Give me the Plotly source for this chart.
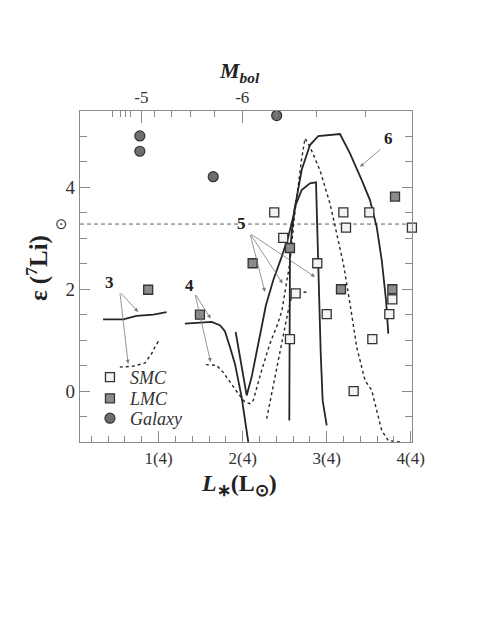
import plotly.graph_objects as go

# luminosity in units of 10^4 Lsun, lithium abundance eps(7Li)
smc_L = [2.376, 2.483, 2.631, 2.563, 2.888, 3.000, 3.198, 3.230, 3.507, 3.543, 3.321, 3.745, 3.781, 4.014]
smc_li = [3.51, 3.01, 1.92, 1.02, 2.51, 1.51, 3.51, 3.21, 3.51, 1.02, 0.0, 1.51, 1.80, 3.21]

lmc_L = [0.876, 1.492, 2.119, 2.563, 3.170, 3.781, 3.813]
lmc_li = [1.99, 1.50, 2.51, 2.81, 2.0, 2.0, 3.82]

gal_L = [0.777, 0.777, 1.650, 2.405]
gal_li = [5.01, 4.71, 4.21, 5.41]

# model tracks
m3_solid_L = [0.34, 0.579, 0.738, 0.936, 1.095]
m3_solid_li = [1.41, 1.41, 1.475, 1.50, 1.55]
m3_dot_L = [0.539, 0.698, 0.837, 0.917, 0.956, 1.007]
m3_dot_li = [0.47, 0.49, 0.55, 0.735, 0.865, 1.0]

m4_solid_L = [1.313, 1.452, 1.631, 1.730, 1.789, 1.849, 1.908, 1.988, 2.067]
m4_solid_li = [1.325, 1.345, 1.357, 1.292, 1.174, 0.865, 0.539, -0.118, -1.0]

m4_dot_L = [1.563, 1.690, 1.769, 1.849, 1.948, 2.027, 2.087, 2.126, 2.226, 2.325, 2.420, 2.468,
            2.515, 2.563, 2.611, 2.658, 2.700, 2.742, 2.801, 2.920, 3.039, 3.119, 3.198, 3.277,
            3.357, 3.456, 3.536, 3.595, 3.655, 3.733, 3.872]
m4_dot_li = [0.519, 0.505, 0.368, 0.177, -0.051, -0.216, -0.248, -0.183, 0.407, 0.932, 1.331, 1.587,
             2.079, 2.531, 3.357, 4.045, 4.537, 4.964, 4.798, 4.337, 3.685, 3.095, 2.505, 1.719,
             0.865, 0.210, 0.014, -0.380, -0.773, -0.970, -1.0]

m5_dot_L = [2.286, 2.376, 2.460, 2.543, 2.581, 2.635, 2.694, 2.762]
m5_dot_li = [-0.543, 0.210, 0.899, 1.587, 1.843, 1.931, 1.951, 1.941]

m6_solid_L = [1.917, 1.988, 2.048, 2.107, 2.167, 2.226, 2.277, 2.364, 2.464, 2.543, 2.602, 2.702,
              2.801, 2.900, 3.158, 3.277, 3.417, 3.515, 3.595, 3.655, 3.706, 3.733]
m6_solid_li = [1.160, 0.472, -0.085, 0.275, 0.736, 1.259, 1.685, 2.177, 2.635, 3.028, 3.422, 4.340,
               4.832, 5.009, 5.048, 4.669, 4.144, 3.750, 3.225, 2.570, 1.784, 1.129]

m5_solid_L = [2.555, 2.557, 2.563, 2.587, 2.623, 2.702, 2.801, 2.873, 2.885, 2.900, 2.929, 2.952, 3.000]
m5_solid_li = [-0.576, 1.194, 2.702, 3.160, 3.619, 3.947, 4.079, 4.098, 3.357, 2.045, 0.736, -0.183, -0.675]

solar_li = 3.28

x_ticks = [1, 2, 3, 4]
x_ticktext = ["1(4)", "2(4)", "3(4)", "4(4)"]
y_ticks = [0, 2, 4]
mbol_major = [-5, -6]
mbol_minor = [-4.4, -4.6, -4.7, -4.8, -5.2, -5.4, -5.6, -5.8, -6.2, -6.4, -6.6]


def mbol_to_L(m):
    # bolometric magnitude -> luminosity in 10^4 Lsun
    return 10 ** ((4.75 - m) / 2.5) / 1e4


SERIF = "Liberation Serif"
AXIS_GREY = "#8a8a8a"
LINE_COL = "#262626"
X_RANGE = [0.065, 4.015]

fig = go.Figure()

solid = dict(color=LINE_COL, width=1.8)
dotted = dict(color=LINE_COL, width=1.4, dash="dot")
for xs, ys, st in [
    (m3_solid_L, m3_solid_li, solid), (m3_dot_L, m3_dot_li, dotted),
    (m4_solid_L, m4_solid_li, solid), (m4_dot_L, m4_dot_li, dotted),
    (m5_dot_L, m5_dot_li, dotted), (m6_solid_L, m6_solid_li, solid),
    (m5_solid_L, m5_solid_li, solid),
]:
    fig.add_trace(go.Scatter(x=xs, y=ys, mode="lines", line=st, showlegend=False, hoverinfo="skip"))

# one legend per sample so the rows can sit as tight as in the original
fig.add_trace(go.Scatter(x=smc_L, y=smc_li, mode="markers", name="SMC", cliponaxis=False, legend="legend",
                         marker=dict(symbol="square", size=9, color="#f3f3f3",
                                     line=dict(color="#333333", width=1.3))))
fig.add_trace(go.Scatter(x=lmc_L, y=lmc_li, mode="markers", name="LMC", cliponaxis=False, legend="legend2",
                         marker=dict(symbol="square", size=9, color="#8c8c8c",
                                     line=dict(color="#333333", width=1.3))))
fig.add_trace(go.Scatter(x=gal_L, y=gal_li, mode="markers", name="Galaxy", cliponaxis=False, legend="legend3",
                         marker=dict(symbol="circle", size=10, color="#6e6e6e",
                                     line=dict(color="#333333", width=1.2))))
# dummy trace so the top Mbol axis is drawn
fig.add_trace(go.Scatter(x=[None], y=[None], xaxis="x2", showlegend=False, hoverinfo="skip"))

fig.add_shape(type="line", xref="paper", x0=0, x1=1, yref="y", y0=solar_li, y1=solar_li,
              line=dict(color="#333333", width=0.8, dash="4px,3px"), layer="below")

# model labels with arrows
labels = [("3", 0.420, 2.14), ("4", 1.373, 2.08), ("5", 1.988, 3.29), ("6", 3.733, 4.96)]
for txt, lx, ly in labels:
    fig.add_annotation(x=lx, y=ly, text=f"<b>{txt}</b>", showarrow=False,
                       xanchor="center", yanchor="middle",
                       font=dict(family=SERIF, size=17, color="#222222"))

arrows = [
    ((0.539, 1.947), (0.757, 1.554)), ((0.539, 1.947), (0.638, 0.539)),
    ((1.432, 1.915), (1.619, 1.424)), ((1.432, 1.915), (1.619, 0.570)),
    ((2.087, 3.095), (2.265, 1.947)), ((2.087, 3.095), (2.476, 2.112)),
    ((2.087, 3.095), (2.861, 2.242)), ((3.655, 4.767), (3.396, 4.405)),
]
for (tx, ty), (hx, hy) in arrows:
    fig.add_annotation(x=hx, y=hy, ax=tx, ay=ty, axref="x", ayref="y", text="",
                       showarrow=True, arrowhead=2, arrowsize=1, arrowwidth=0.8,
                       arrowcolor="#7a7a7a", standoff=0, startstandoff=0)

# sun symbol next to the solar abundance line
fig.add_annotation(xref="paper", x=-0.055, yref="y", y=solar_li, text="\u2299", showarrow=False,
                   xanchor="center", yanchor="middle",
                   font=dict(family="DejaVu Sans", size=15, color="#333333"))

# axis titles
fig.add_annotation(xref="paper", yref="paper", x=-0.13, y=0.525, textangle=-90,
                   xanchor="center", yanchor="middle",
                   text="<b>\u03b5 (<sup>7</sup>Li)</b>", showarrow=False,
                   font=dict(family=SERIF, size=25, color="#222222"))
fig.add_annotation(xref="paper", yref="paper", x=0.48, y=-0.13,
                   xanchor="center", yanchor="middle",
                   text="<b><i>L</i><sub>\u2217</sub>(L<sub>\u2299</sub>)</b>", showarrow=False,
                   font=dict(family=SERIF, size=24, color="#222222"))
fig.add_annotation(xref="paper", yref="paper", x=0.48, y=1.118,
                   xanchor="center", yanchor="middle",
                   text="<b><i>M<sub>bol</sub></i></b>", showarrow=False,
                   font=dict(family=SERIF, size=22, color="#222222"))

legend_style = dict(xanchor="left", yanchor="middle", bgcolor="rgba(0,0,0,0)", itemwidth=30,
                    font=dict(family=SERIF, size=18, style="italic", color="#333333"))

fig.update_layout(
    width=480, height=621,
    margin=dict(l=72, r=76, t=103, b=187),
    paper_bgcolor="white", plot_bgcolor="white",
    font=dict(family=SERIF, color="#333333"),
    showlegend=True,
    legend=dict(x=0.03, y=0.195, **legend_style),
    legend2=dict(x=0.03, y=0.131, **legend_style),
    legend3=dict(x=0.03, y=0.071, **legend_style),
    xaxis=dict(range=X_RANGE, showgrid=False, zeroline=False, showline=True,
               linecolor=AXIS_GREY, linewidth=1.3, ticks="inside", ticklen=11,
               tickcolor=AXIS_GREY, tickmode="array", tickvals=x_ticks, ticktext=x_ticktext,
               tickfont=dict(family=SERIF, size=17, color="#333333"),
               minor=dict(ticks="inside", ticklen=6, dtick=0.2, tick0=0, tickcolor=AXIS_GREY)),
    xaxis2=dict(range=X_RANGE, overlaying="x", side="top", anchor="y", showgrid=False,
                zeroline=False, showline=True, linecolor=AXIS_GREY, linewidth=1.3,
                ticks="inside", ticklen=12, tickcolor=AXIS_GREY, tickmode="array",
                tickvals=[mbol_to_L(m) for m in mbol_major], ticktext=[str(m) for m in mbol_major],
                tickfont=dict(family=SERIF, size=17, color="#333333"),
                minor=dict(ticks="inside", ticklen=6, tickmode="array",
                           tickvals=[mbol_to_L(m) for m in mbol_minor], tickcolor=AXIS_GREY)),
    yaxis=dict(range=[-1, 5.5], showgrid=False, zeroline=False, showline=True, mirror="ticks",
               linecolor=AXIS_GREY, linewidth=1.3, ticks="inside", ticklen=10,
               tickcolor=AXIS_GREY, tickmode="array", tickvals=y_ticks,
               tickfont=dict(family=SERIF, size=19, color="#333333"),
               minor=dict(ticks="inside", ticklen=7, dtick=0.5, tick0=0, tickcolor=AXIS_GREY)),
)

fig.write_html("out.html")
